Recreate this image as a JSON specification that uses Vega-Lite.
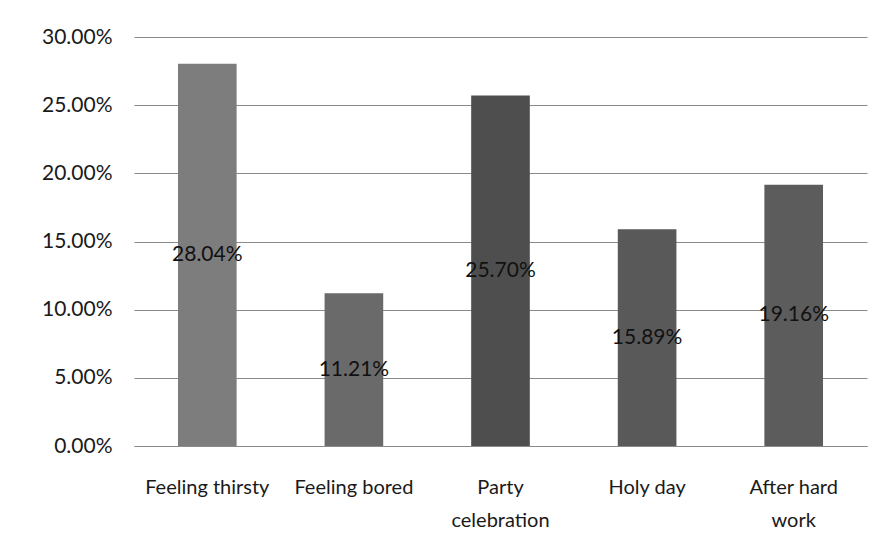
{
  "$schema": "https://vega.github.io/schema/vega-lite/v6.json",
  "autosize": "none",
  "width": 733,
  "height": 409,
  "padding": {"left": 134, "top": 37, "right": 18, "bottom": 107},
  "background": "#ffffff",
  "config": {
    "font": "Lato",
    "view": {"stroke": null},
    "axisY": {
      "title": null,
      "format": ".2%",
      "values": [0, 0.05, 0.1, 0.15, 0.2, 0.25, 0.3],
      "labelOverlap": false,
      "labelFont": "Lato",
      "labelFontSize": 21,
      "labelColor": "#1a1a1a",
      "labelPadding": 22,
      "ticks": false,
      "domain": false,
      "gridColor": "#8a8a8a",
      "gridWidth": 1
    }
  },
  "data": {
    "values": [
      {"reason": "Feeling thirsty", "v": 0.2804},
      {"reason": "Feeling bored", "v": 0.1121},
      {"reason": "Party celebration", "v": 0.2570},
      {"reason": "Holy day", "v": 0.1589},
      {"reason": "After hard work", "v": 0.1916}
    ]
  },
  "encoding": {
    "x": {
      "field": "reason",
      "type": "nominal",
      "sort": null,
      "scale": {"paddingInner": 0.6, "paddingOuter": 0.3},
      "axis": {
        "title": null,
        "labelAngle": 0,
        "labelFont": "Lato",
        "labelFontSize": 20,
        "labelColor": "#1a1a1a",
        "labelPadding": 31,
        "labelLineHeight": 33,
        "labelBaseline": "top",
        "labelOverlap": false,
        "ticks": false,
        "domainColor": "#8a8a8a",
        "labelExpr": "datum.value == 'Party celebration' ? ['Party', 'celebration'] : datum.value == 'After hard work' ? ['After hard', 'work'] : datum.label"
      }
    }
  },
  "layer": [
    {
      "mark": {"type": "bar"},
      "encoding": {
        "y": {
          "field": "v",
          "type": "quantitative",
          "title": null,
          "scale": {"domain": [0, 0.3]},
          "axis": {"format": ".2%", "values": [0, 0.05, 0.1, 0.15, 0.2, 0.25, 0.3]}
        },
        "color": {
          "field": "reason",
          "type": "nominal",
          "sort": null,
          "legend": null,
          "scale": {
            "domain": ["Feeling thirsty", "Feeling bored", "Party celebration", "Holy day", "After hard work"],
            "range": ["#7d7d7d", "#6a6a6a", "#4e4e4e", "#595959", "#5c5c5c"]
          }
        }
      }
    },
    {
      "transform": [{"calculate": "datum.v / 2", "as": "mid"}],
      "mark": {"type": "text", "font": "Lato", "fontSize": 21, "color": "#111111", "baseline": "middle", "align": "center"},
      "encoding": {
        "y": {
          "field": "mid",
          "type": "quantitative",
          "title": null,
          "axis": {"format": ".2%", "values": [0, 0.05, 0.1, 0.15, 0.2, 0.25, 0.3]}
        },
        "text": {"field": "v", "type": "quantitative", "format": ".2%"}
      }
    }
  ]
}
